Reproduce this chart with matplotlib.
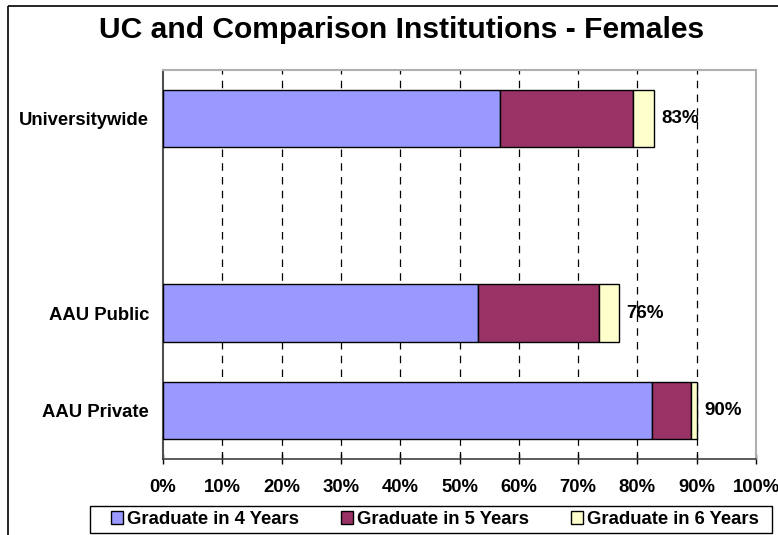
import matplotlib.pyplot as plt
from matplotlib.patches import Rectangle

plt.rcParams['font.family'] = ['Liberation Sans', 'DejaVu Sans']
plt.rcParams['font.weight'] = 'bold'

# Data (percent of female cohort graduating); blank slot keeps the gap
categories = ["Universitywide", "", "AAU Public", "AAU Private"]
grad_4yr = [56.8, 0, 53.2, 82.4]
grad_5yr = [22.4, 0, 20.3, 6.7]
grad_6yr = [3.6, 0, 3.4, 1.0]
total_labels = ["83%", "", "76%", "90%"]
series_names = ["Graduate in 4 Years", "Graduate in 5 Years", "Graduate in 6 Years"]
series_colors = ["#9999FF", "#993366", "#FFFFCC"]
x_ticks = list(range(0, 101, 10))

W, H = 778, 535
fig = plt.figure(figsize=(W / 100, H / 100), dpi=100)
ax = fig.add_axes([163 / W, 1 - 459 / H, (756 - 163) / W, (459 - 70) / H])

# outer chart border
fig.patches.append(Rectangle((8 / W, 1 - 6 / H), 1, -1, transform=fig.transFigure,
                             fill=False, edgecolor="black", linewidth=1.2, clip_on=False))
# legend box (drawn by hand so padding can differ left/right vs top/bottom)
fig.patches.append(Rectangle((90 / W, 1 - 533 / H), (772 - 90) / W, 27 / H,
                             transform=fig.transFigure, fill=False,
                             edgecolor="black", linewidth=1.0))

ypos = list(range(len(categories)))
left = [0] * len(categories)
for vals, name, col in zip([grad_4yr, grad_5yr, grad_6yr], series_names, series_colors):
    shown = [i for i, v in enumerate(vals) if v > 0]
    ax.barh([ypos[i] for i in shown], [vals[i] for i in shown],
            left=[left[i] for i in shown], height=0.59, color=col,
            edgecolor="black", linewidth=1.0, label=name, zorder=3)
    left = [a + b for a, b in zip(left, vals)]

for y, tot, lab in zip(ypos, left, total_labels):
    if lab:
        ax.text(tot + 1.2, y, lab, va="center", ha="left", fontsize=13.5,
                fontweight="bold", zorder=4)

ax.set_xlim(0, 100)
ax.set_ylim(len(categories) - 0.5, -0.5)
ax.set_yticks(ypos)
ax.set_yticklabels(categories, fontsize=13.3, fontweight="bold")
ax.set_xticks(x_ticks)
ax.set_xticklabels([f"{t}%" for t in x_ticks], fontsize=13.3, fontweight="bold")
ax.tick_params(axis="y", length=0, pad=10)
ax.tick_params(axis="x", direction="inout", length=7, width=1, pad=11)

for t in x_ticks[1:-1]:
    ax.axvline(t, color="black", linestyle=(0, (6, 5)), linewidth=0.9, zorder=1)

for s in ["top", "right"]:
    ax.spines[s].set_color("#b0b0b0")
    ax.spines[s].set_linewidth(1.5)
ax.spines["left"].set_color("#505050")
ax.spines["left"].set_linewidth(1.5)
ax.spines["bottom"].set_color("#404040")
ax.spines["bottom"].set_linewidth(1.2)

fig.text(402 / W, 1 - 30 / H, "UC and Comparison Institutions - Females",
         ha="center", va="center", fontsize=21.6, fontweight="bold")

leg = fig.legend(loc="center", bbox_to_anchor=(435 / W, 1 - 519.5 / H), ncol=3,
                 frameon=False, fontsize=13.3,
                 handlelength=0.65, handleheight=0.65, handletextpad=0.2,
                 columnspacing=2.3, borderpad=0.0, borderaxespad=0)

fig.savefig("out.png", dpi=100)
